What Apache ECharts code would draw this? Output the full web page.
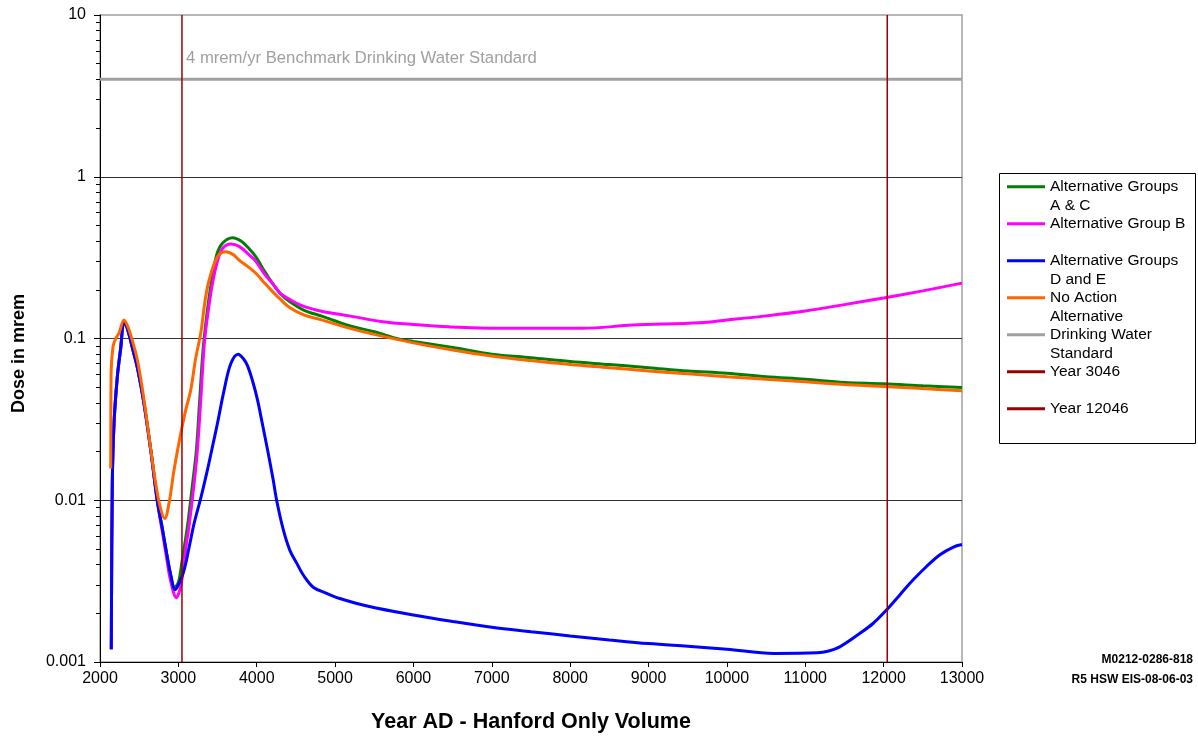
<!DOCTYPE html>
<html>
<head>
<meta charset="utf-8">
<script src="https://cdn.jsdelivr.net/npm/echarts@6/dist/echarts.min.js"></script>
<style>
  html, body { margin: 0; padding: 0; background: #fff; }
  #main { width: 1198px; height: 738px; }
</style>
</head>
<body>
<div id="main"></div>
<script>
// values (year AD, dose in mrem)
const yearsAC = [2144, 2157, 2179, 2221, 2264, 2307, 2350, 2420, 2480, 2560, 2650, 2730, 2800, 2850, 2900, 2950, 3000, 3050, 3116, 3180, 3230, 3270, 3315, 3360, 3420, 3490, 3563, 3691, 3800, 3900, 3989, 4100, 4202, 4300, 4415, 4600, 4840, 5181, 5500, 5820, 6000, 6500, 7000, 7500, 8000, 8500, 9000, 9500, 10000, 10500, 11000, 11500, 12000, 12500, 13000];
const doseAC = [0.0012, 0.0127, 0.03, 0.058, 0.087, 0.127, 0.115, 0.085, 0.065, 0.04, 0.02, 0.01, 0.0065, 0.0047, 0.0035, 0.0029, 0.0031, 0.0043, 0.0069, 0.0125, 0.0205, 0.04, 0.085, 0.136, 0.22, 0.33, 0.388, 0.42, 0.40, 0.36, 0.32, 0.26, 0.219, 0.19, 0.17, 0.15, 0.137, 0.12, 0.11, 0.099, 0.096, 0.088, 0.08, 0.076, 0.072, 0.069, 0.066, 0.063, 0.061, 0.058, 0.056, 0.0535, 0.0525, 0.051, 0.0497];

const yearsB = [2144, 2157, 2179, 2221, 2264, 2307, 2350, 2420, 2480, 2560, 2650, 2730, 2800, 2850, 2900, 2975, 3020, 3060, 3100, 3136, 3201, 3243, 3286, 3329, 3371, 3435, 3499, 3563, 3670, 3780, 3900, 3989, 4100, 4202, 4300, 4415, 4600, 4840, 5181, 5607, 6000, 6459, 7098, 8158, 8797, 9653, 10000, 10500, 11000, 11500, 12000, 12500, 13000];
const doseB = [0.0012, 0.0127, 0.03, 0.058, 0.087, 0.127, 0.115, 0.085, 0.065, 0.04, 0.02, 0.01, 0.0062, 0.0044, 0.0032, 0.0025, 0.0028, 0.0036, 0.0053, 0.0069, 0.0127, 0.0205, 0.0417, 0.09, 0.136, 0.219, 0.30, 0.36, 0.384, 0.37, 0.33, 0.30, 0.25, 0.219, 0.19, 0.175, 0.158, 0.147, 0.138, 0.127, 0.122, 0.118, 0.1156, 0.1156, 0.121, 0.125, 0.13, 0.138, 0.148, 0.162, 0.178, 0.197, 0.22];

const yearsDE = [2144, 2157, 2179, 2221, 2264, 2307, 2350, 2420, 2480, 2560, 2650, 2730, 2800, 2850, 2900, 2958, 3000, 3073, 3140, 3201, 3290, 3371, 3440, 3499, 3584, 3670, 3763, 3830, 3882, 3950, 4010, 4070, 4138, 4211, 4254, 4338, 4423, 4508, 4594, 4721, 4891, 5061, 5422, 6000, 6500, 7000, 7500, 8000, 8500, 9000, 9500, 10000, 10600, 11150, 11300, 11440, 11694, 11864, 12026, 12204, 12374, 12544, 12714, 12884, 13000];
const doseDE = [0.0012, 0.0127, 0.03, 0.058, 0.087, 0.127, 0.115, 0.085, 0.065, 0.04, 0.02, 0.01, 0.0065, 0.0047, 0.0035, 0.0028, 0.0030, 0.0037, 0.0052, 0.0072, 0.0105, 0.0154, 0.022, 0.0299, 0.048, 0.070, 0.080, 0.075, 0.068, 0.054, 0.0417, 0.030, 0.0205, 0.0133, 0.01, 0.0066, 0.0049, 0.0041, 0.00345, 0.0029, 0.00266, 0.00247, 0.00221, 0.00195, 0.00178, 0.00164, 0.00154, 0.00145, 0.00137, 0.0013, 0.00125, 0.0012, 0.00113, 0.00114, 0.00117, 0.00124, 0.0015, 0.00173, 0.00207, 0.00259, 0.00321, 0.00388, 0.00459, 0.00512, 0.00532];

const yearsNA = [2137, 2141, 2166, 2200, 2243, 2307, 2350, 2392, 2477, 2562, 2640, 2711, 2770, 2826, 2881, 2945, 3022, 3094, 3158, 3220, 3286, 3340, 3393, 3499, 3606, 3700, 3776, 3880, 3989, 4100, 4202, 4300, 4415, 4600, 4840, 5181, 5500, 6000, 6500, 7000, 7500, 8000, 8500, 9000, 9500, 10000, 10500, 11000, 11500, 12000, 12500, 13000];
const doseNA = [0.0157, 0.06, 0.089, 0.1, 0.108, 0.13, 0.12, 0.105, 0.0736, 0.0417, 0.022, 0.0127, 0.009, 0.0077, 0.0096, 0.0154, 0.0247, 0.0361, 0.048, 0.075, 0.108, 0.17, 0.23, 0.32, 0.344, 0.33, 0.305, 0.28, 0.253, 0.22, 0.195, 0.175, 0.156, 0.14, 0.13, 0.116, 0.106, 0.094, 0.085, 0.078, 0.073, 0.069, 0.066, 0.063, 0.0605, 0.058, 0.056, 0.054, 0.052, 0.0505, 0.049, 0.0475];

const benchmark = 4;
const yearMarkers = [3046, 12046];
const xRange = [2000, 13000];
const yRange = [0.001, 10];

const seriesNames = ['Alternative Groups A & C', 'Alternative Group B', 'Alternative Groups D and E', 'No Action', 'Alternative Drinking Water Standard', 'Year 3046', 'Year 12046'];
// legend text lines: [above, beside icon, below]
const legendLines = [
  [' ', 'Alternative Groups', 'A & C'],
  [' ', 'Alternative Group B', ' '],
  [' ', 'Alternative Groups', 'D and E'],
  [' ', 'No Action', ' '],
  ['Alternative', 'Drinking Water', 'Standard'],
  [' ', 'Year 3046', ' '],
  [' ', 'Year 12046', ' ']
];
const colors = ['#008000', '#ff00ff', '#0000ff', '#ff6600', '#a0a0a0', '#990000', '#990000'];

const minorTicks = [];
for (let e = -3; e < 1; e++) {
  for (let m = 2; m <= 9; m++) minorTicks.push(+(m * Math.pow(10, e)).toPrecision(2));
}

const pairs = (xs, ys) => xs.map((x, i) => [x, ys[i]]);
const font = "'Liberation Sans', Arial, sans-serif";

function curve(i, xs, ys) {
  return {
    name: seriesNames[i],
    type: 'line',
    data: pairs(xs, ys),
    showSymbol: false,
    symbol: 'none',
    smooth: 0.35,
    lineStyle: { color: colors[i], width: 3 },
    itemStyle: { color: colors[i] }
  };
}

const chart = echarts.init(document.getElementById('main'));
chart.setOption({
  animation: false,
  textStyle: { fontFamily: font },
  grid: {
    left: 100, right: 236, top: 15, bottom: 76,
    show: true, borderColor: '#a0a0a0', borderWidth: 1.5
  },
  xAxis: {
    type: 'value',
    min: xRange[0], max: xRange[1], interval: 1000,
    name: 'Year AD - Hanford Only Volume',
    nameLocation: 'middle', nameGap: 49,
    nameTextStyle: { fontSize: 21.5, fontWeight: 'bold', color: '#000' },
    axisLine: { lineStyle: { color: '#000', width: 1 } },
    axisTick: { show: true, length: 5, lineStyle: { color: '#000' } },
    axisLabel: { fontSize: 16, color: '#000', margin: 9, formatter: v => String(v) },
    splitLine: { show: false }
  },
  yAxis: [{
    type: 'log', logBase: 10,
    min: yRange[0], max: yRange[1],
    name: 'Dose in mrem',
    nameLocation: 'middle', nameGap: 72,
    nameTextStyle: { fontSize: 18, fontWeight: 'bold', color: '#000', padding: [0, 30, 0, 0] },
    axisLine: { show: true, lineStyle: { color: '#000', width: 1 } },
    axisTick: { show: true, length: 6, lineStyle: { color: '#000' } },
    axisLabel: {
      fontSize: 16, color: '#000', margin: 14,
      formatter: v => String(+v.toPrecision(3))
    },
    splitLine: { show: true, showMaxLine: false, lineStyle: { color: '#333', width: 1 } }
  }, {
    type: 'log', logBase: 10,
    min: yRange[0], max: yRange[1],
    position: 'left',
    axisLine: { show: false },
    axisLabel: { show: false },
    splitLine: { show: false },
    axisTick: { show: true, length: 4, customValues: minorTicks, lineStyle: { color: '#000' } }
  }],
  legend: {
    orient: 'vertical',
    left: 1007, top: 159,
    padding: 0,
    itemGap: -18.5,
    itemWidth: 38, itemHeight: 3,
    icon: 'rect',
    selectedMode: false,
    data: seriesNames,
    formatter: name => legendLines[seriesNames.indexOf(name)].join('\n'),
    textStyle: { fontSize: 15.5, lineHeight: 18.5, color: '#000', fontFamily: font }
  },
  graphic: [
    { type: 'rect', z: 0, shape: { x: 999.5, y: 173.5, width: 196, height: 270 },
      style: { fill: 'none', stroke: '#000', lineWidth: 1 } },
    { type: 'text', right: 5, top: 654,
      style: { text: 'M0212-0286-818', font: "bold 12px 'Liberation Sans', Arial, sans-serif", fill: '#000' } },
    { type: 'text', right: 5, top: 674,
      style: { text: 'R5 HSW EIS-08-06-03', font: "bold 12px 'Liberation Sans', Arial, sans-serif", fill: '#000' } }
  ],
  series: [
    curve(0, yearsAC, doseAC),
    curve(1, yearsB, doseB),
    curve(2, yearsDE, doseDE),
    curve(3, yearsNA, doseNA),
    {
      name: seriesNames[4], type: 'line', symbol: 'none',
      data: [[xRange[0], benchmark], [xRange[1], benchmark]],
      lineStyle: { color: colors[4], width: 3 }, itemStyle: { color: colors[4] },
      markPoint: {
        symbol: 'circle', symbolSize: 0, silent: true,
        data: [{ coord: [yearMarkers[0], benchmark] }],
        label: {
          show: true, position: [4, -29],
          formatter: '4 mrem/yr Benchmark Drinking Water Standard',
          fontSize: 16.7, color: '#a0a0a0', fontFamily: font
        }
      }
    },
    {
      name: seriesNames[5], type: 'line', symbol: 'none',
      data: [[yearMarkers[0], yRange[0]], [yearMarkers[0], yRange[1]]],
      lineStyle: { color: colors[5], width: 1.5 }, itemStyle: { color: colors[5] }
    },
    {
      name: seriesNames[6], type: 'line', symbol: 'none',
      data: [[yearMarkers[1], yRange[0]], [yearMarkers[1], yRange[1]]],
      lineStyle: { color: colors[6], width: 1.5 }, itemStyle: { color: colors[6] }
    }
  ]
});
</script>
</body>
</html>
